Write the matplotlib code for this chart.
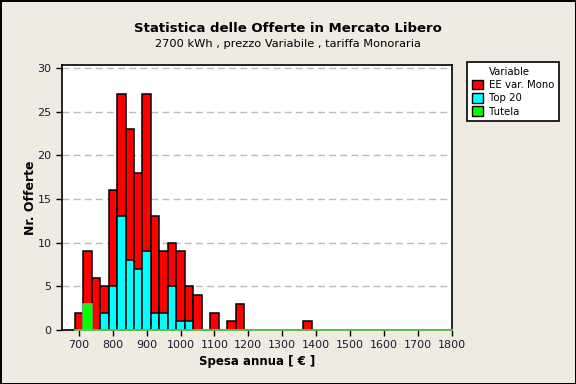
import numpy as np
import matplotlib
matplotlib.use("Agg")
import matplotlib.pyplot as plt
from matplotlib.patches import Patch

# bin centres (width 25) and counts
ee_x = [700, 725, 750, 775, 800, 825, 850, 875, 900, 925, 950, 975, 1000, 1025, 1050, 1100, 1150, 1175, 1375]
ee_n = [2, 9, 6, 5, 16, 27, 23, 18, 27, 13, 9, 10, 9, 5, 4, 2, 1, 3, 1]
top_x = [775, 800, 825, 850, 875, 900, 925, 950, 975, 1000, 1025]
top_n = [2, 5, 13, 8, 7, 9, 2, 2, 5, 1, 1]
tut_x = [725]
tut_n = [3]
labels = ["EE var. Mono", "Top 20", "Tutela"]
xticks = list(range(700, 1900, 100))
yticks = [0, 5, 10, 15, 20, 25, 30]

bg = "#efebe1"
fig = plt.figure(figsize=(5.76, 3.84), dpi=100, facecolor=bg)
fig.patch.set_edgecolor("black")
fig.patch.set_linewidth(2)
ax = fig.add_axes([0.1076, 0.1406, 0.6764, 0.6904])
ax.set_facecolor("white")

w = 25
ax.bar(ee_x, ee_n, width=w, color="#ff0000", edgecolor="black", linewidth=1.1, zorder=2)
ax.bar(top_x, top_n, width=w, color="#00ffff", edgecolor="black", linewidth=1.1, zorder=3)
ax.bar(tut_x, tut_n, width=w, color="#00ff00", edgecolor="#66cc55", linewidth=1.1, zorder=4)
ax.plot([687.5, 1800], [0, 0], color="#66cc55", lw=1.3, zorder=5, clip_on=False)

ax.set_xlim(650, 1800)
ax.set_ylim(0, 30.35)
ax.set_xticks(xticks)
ax.set_yticks(yticks)
ax.tick_params(labelsize=8, length=4, width=1, colors="black", labelcolor="#1a1a2e")
ax.yaxis.grid(True, color="#bbbbbb", linestyle=(0, (5, 3)), linewidth=1)
ax.set_axisbelow(True)
for s in ax.spines.values():
    s.set_linewidth(1.2)

ax.set_xlabel("Spesa annua [ € ]", fontsize=8.5, fontweight="bold", labelpad=3)
ax.set_ylabel("Nr. Offerte", fontsize=9, fontweight="bold", labelpad=0)

fig.text(0.5, 0.925, "Statistica delle Offerte in Mercato Libero", ha="center", va="center",
         fontsize=9.5, fontweight="bold")
fig.text(0.5, 0.885, "2700 kWh , prezzo Variabile , tariffa Monoraria", ha="center", va="center",
         fontsize=8.2)

# "Variable" header drawn as an entry with an invisible handle so it lines up with the labels
handles = [Patch(facecolor="none", edgecolor="none")]
handles += [Patch(facecolor=c, edgecolor="black") for c in ["#ff0000", "#00ffff", "#00ff00"]]
leg = fig.legend(handles, ["Variable"] + labels, loc="upper left", bbox_to_anchor=(0.811, 0.839),
                 borderaxespad=0, fontsize=7.3, frameon=True, fancybox=False, edgecolor="black",
                 framealpha=1, handlelength=1.1, handleheight=1.1, handletextpad=0.6,
                 borderpad=0.45, labelspacing=0.3)
leg.get_frame().set_linewidth(1.2)

fig.savefig("out.png", dpi=100, facecolor=bg, edgecolor="black")
